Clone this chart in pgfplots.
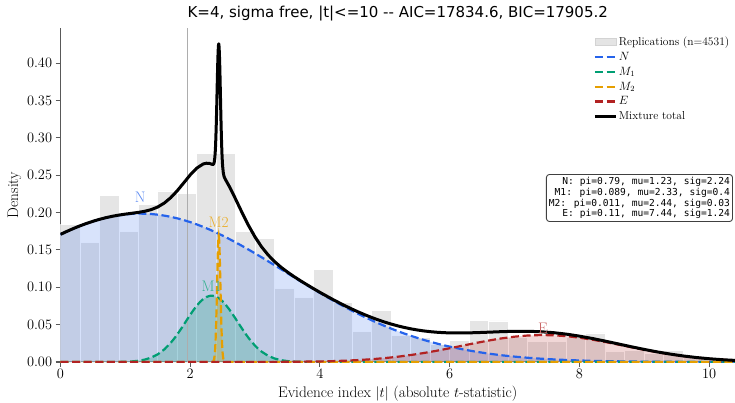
\documentclass[border=0pt]{standalone}
\usepackage{fontspec}
\newfontfamily\titlefont{DejaVu Sans}
\newfontfamily\boxfont{DejaVu Sans Mono}
\usepackage{pgfplots}
\usepackage{pgfplotstable}
\pgfplotsset{compat=1.18}
\usetikzlibrary{calc}
\definecolor{cN}{HTML}{2563EB}
\definecolor{cMa}{HTML}{009E73}
\definecolor{cMb}{HTML}{E69F00}
\definecolor{cE}{HTML}{B22222}
\definecolor{barc}{HTML}{D3D3D3}

\pgfplotstableread{
x y
0.0 0.184
0.3 0.160
0.6 0.223
0.9 0.175
1.2 0.211
1.5 0.229
1.8 0.226
2.1 0.279
2.4 0.279
2.7 0.175
3.0 0.165
3.3 0.099
3.6 0.086
3.9 0.124
4.2 0.080
4.5 0.041
4.8 0.069
5.1 0.036
5.4 0.033
5.7 0.024
6.0 0.029
6.3 0.056
6.6 0.055
6.9 0.033
7.2 0.027
7.5 0.027
7.8 0.033
8.1 0.039
8.4 0.014
8.7 0.016
9.0 0.012
9.3 0.016
9.6 0.007
9.9 0.007
}\hist

\pgfplotstableread{
x y
0.0 0.17081
0.1 0.17487
0.2 0.17867
0.3 0.18220
0.4 0.18542
0.5 0.18833
0.6 0.19090
0.7 0.19312
0.8 0.19497
0.9 0.19646
1.0 0.19756
1.1 0.19827
1.2 0.19858
1.3 0.19850
1.4 0.19803
1.5 0.19716
1.6 0.19591
1.7 0.19428
1.8 0.19227
1.9 0.18991
2.0 0.18721
2.1 0.18417
2.2 0.18083
2.3 0.17719
2.4 0.17327
2.5 0.16911
2.6 0.16472
2.7 0.16013
2.8 0.15535
2.9 0.15041
3.0 0.14535
3.1 0.14017
3.2 0.13490
3.3 0.12958
3.4 0.12422
3.5 0.11884
3.6 0.11347
3.7 0.10813
3.8 0.10283
3.9 0.09760
4.0 0.09245
4.1 0.08740
4.2 0.08246
4.3 0.07764
4.4 0.07296
4.5 0.06842
4.6 0.06404
4.7 0.05982
4.8 0.05577
4.9 0.05189
5.0 0.04818
5.1 0.04465
5.2 0.04129
5.3 0.03812
5.4 0.03511
5.5 0.03228
5.6 0.02961
5.7 0.02712
5.8 0.02478
5.9 0.02260
6.0 0.02057
6.2 0.01695
6.4 0.01385
6.6 0.01122
6.8 0.00902
7.0 0.00720
7.2 0.00570
7.4 0.00447
7.6 0.00348
7.8 0.00269
8.0 0.00206
8.2 0.00157
8.4 0.00118
8.6 0.00089
8.8 0.00066
9.0 0.00048
9.2 0.00035
9.4 0.00026
9.6 0.00018
9.8 0.00013
10.0 0.00009
10.2 0.00007
10.4 0.00005
}\curveN

\pgfplotstableread{
x y
0.0 0
0.8 0.00006
0.9 0.00015
1.0 0.00035
1.1 0.00079
1.2 0.00164
1.3 0.00322
1.4 0.00595
1.5 0.01031
1.6 0.01679
1.7 0.02568
1.75 0.03103
1.8 0.03690
1.85 0.04321
1.9 0.04981
1.95 0.05653
2.0 0.06316
2.05 0.06948
2.1 0.07524
2.15 0.08022
2.2 0.08420
2.25 0.08701
2.3 0.08852
2.35 0.08865
2.4 0.08742
2.45 0.08486
2.5 0.08110
2.55 0.07631
2.6 0.07068
2.65 0.06446
2.7 0.05787
2.75 0.05115
2.8 0.04451
2.85 0.03813
2.9 0.03216
2.95 0.02670
3.0 0.02183
3.05 0.01757
3.1 0.01392
3.2 0.00834
3.3 0.00469
3.4 0.00248
3.5 0.00123
3.6 0.00057
3.7 0.00025
3.9 0.00004
10.4 0
}\curveMa

\pgfplotstableread{
x y
0.0 0
2.34 0.00010
2.35 0.00042
2.36 0.00149
2.37 0.00450
2.38 0.01177
2.385 0.01802
2.39 0.02656
2.395 0.03774
2.40 0.05168
2.405 0.06821
2.41 0.08674
2.415 0.10631
2.42 0.12555
2.425 0.14291
2.43 0.15675
2.435 0.16569
2.44 0.16878
2.445 0.16569
2.45 0.15675
2.455 0.14291
2.46 0.12555
2.465 0.10631
2.47 0.08674
2.475 0.06821
2.48 0.05168
2.485 0.03774
2.49 0.02656
2.495 0.01802
2.50 0.01177
2.51 0.00450
2.52 0.00149
2.53 0.00042
2.54 0.00010
10.4 0
}\curveMb

\pgfplotstableread{
x y
0.0 0
2.5 0.00001
3.0 0.00006
3.5 0.00023
4.0 0.00077
4.2 0.00119
4.4 0.00179
4.6 0.00262
4.8 0.00374
5.0 0.00521
5.2 0.00706
5.4 0.00933
5.6 0.01200
5.8 0.01505
6.0 0.01839
6.2 0.02189
6.4 0.02539
6.6 0.02869
6.8 0.03159
7.0 0.03389
7.2 0.03542
7.4 0.03607
7.6 0.03579
7.8 0.03460
8.0 0.03259
8.2 0.02991
8.4 0.02674
8.6 0.02330
8.8 0.01978
9.0 0.01636
9.2 0.01318
9.4 0.01035
9.6 0.00792
9.8 0.00590
10.0 0.00428
10.2 0.00303
10.4 0.00209
}\curveE

\pgfplotstableread{
x y
0.0 0.17081
0.1 0.17487
0.2 0.17867
0.3 0.18220
0.4 0.18542
0.5 0.18833
0.6 0.19090
0.7 0.19314
0.8 0.19503
0.9 0.19661
1.0 0.19791
1.1 0.19906
1.2 0.20022
1.3 0.20172
1.4 0.20398
1.5 0.20747
1.6 0.21270
1.7 0.21996
1.8 0.22917
1.9 0.23972
2.0 0.25037
2.1 0.25941
2.2 0.26503
2.25 0.26604
2.3 0.26571
2.34 0.26448
2.35 0.26430
2.36 0.26485
2.37 0.26727
2.38 0.27389
2.385 0.28010
2.39 0.28799
2.395 0.29880
2.40 0.31237
2.405 0.32849
2.41 0.34660
2.415 0.36574
2.42 0.38454
2.425 0.40144
2.43 0.41481
2.435 0.42327
2.44 0.42586
2.445 0.42226
2.45 0.41280
2.455 0.39842
2.46 0.38052
2.465 0.36073
2.47 0.34059
2.475 0.32148
2.48 0.30436
2.485 0.28982
2.49 0.27803
2.495 0.26900
2.50 0.26198
2.51 0.25339
2.52 0.24902
2.53 0.24655
2.54 0.24479
2.55 0.24322
2.6 0.23540
2.65 0.22689
2.7 0.21800
2.8 0.19986
2.9 0.18257
3.0 0.16724
3.1 0.15418
3.2 0.14337
3.3 0.13444
3.4 0.12688
3.5 0.12030
3.6 0.11434
3.7 0.10876
3.8 0.10343
3.9 0.09825
4.0 0.09322
4.1 0.08836
4.2 0.08365
4.3 0.07910
4.4 0.07475
4.5 0.07059
4.6 0.06666
4.7 0.06296
4.8 0.05951
4.9 0.05632
5.0 0.05339
5.1 0.05073
5.2 0.04835
5.3 0.04626
5.4 0.04444
5.5 0.04289
5.6 0.04161
5.7 0.04060
5.8 0.03983
5.9 0.03929
6.0 0.03896
6.2 0.03884
6.4 0.03924
6.6 0.03991
6.8 0.04061
7.0 0.04109
7.2 0.04112
7.4 0.04054
7.6 0.03927
7.8 0.03729
8.0 0.03465
8.2 0.03148
8.4 0.02792
8.6 0.02419
8.8 0.02044
9.0 0.01684
9.2 0.01353
9.4 0.01061
9.6 0.00810
9.8 0.00603
10.0 0.00437
10.2 0.00310
10.4 0.00214
}\curveT

\begin{document}
\begin{tikzpicture}
\begin{axis}[
  scale only axis,
  width=674.5pt, height=334pt,
  xmin=0, xmax=10.4, ymin=0, ymax=0.447,
  axis x line*=bottom, axis y line*=left,
  axis line style={black!65, line width=1.1pt},
  tick align=outside,
  major tick length=4.9pt,
  tick style={black!65, line width=1.1pt},
  xtick={0,2,4,6,8,10},
  ytick={0,0.05,0.10,0.15,0.20,0.25,0.30,0.35,0.40},
  yticklabel style={/pgf/number format/.cd, fixed, fixed zerofill, precision=2},
  ticklabel style={font=\fontsize{13.9}{16}\selectfont},
  xticklabel style={yshift=1pt},
  xlabel={Evidence index $|t|$ (absolute $t$-statistic)},
  ylabel={Density},
  xlabel style={yshift=0pt},
  ylabel style={yshift=-1pt},
  label style={font=\fontsize{15.3}{17}\selectfont},
  title={K=4, sigma free, |t|<=10 -- AIC=17834.6, BIC=17905.2},
  title style={font=\titlefont\fontsize{15}{17}\selectfont, yshift=-2.5pt},
  legend style={at={(0.997,0.985)}, anchor=north east, draw=none, fill=white, fill opacity=0.8, text opacity=1,
    font=\fontsize{11.5}{13}\selectfont, row sep=2.2pt, inner sep=2pt,
    nodes={inner sep=1.5pt}},
  legend cell align=left,
  legend image code/.code={\draw[#1] (0pt,0pt) -- (21pt,0pt);},
  clip=true,
]
\addplot[ybar interval, fill=barc, fill opacity=0.6, draw=white, line width=0.7pt,
  legend image code/.code={\fill[barc, fill opacity=0.6] (0pt,-3.5pt) rectangle (21pt,3.5pt);}] table {\hist};
\addlegendentry{Replications (n=4531)}

\addplot[draw=none, fill=cN, fill opacity=0.18, forget plot] table {\curveN} \closedcycle;
\addplot[draw=none, fill=cMa, fill opacity=0.22, forget plot] table {\curveMa} \closedcycle;
\addplot[draw=none, fill=cMb, fill opacity=0.22, forget plot] table {\curveMb} \closedcycle;
\addplot[draw=none, fill=cE, fill opacity=0.18, forget plot] table {\curveE} \closedcycle;

\addplot[black!32, line width=1.1pt, forget plot] coordinates {(1.96,0) (1.96,0.447)};

\addplot[cN, line width=2.2pt, dash pattern=on 8pt off 3.6pt] table {\curveN};
\addlegendentry{$N$}
\addplot[cMa, line width=2.2pt, dash pattern=on 8pt off 3.6pt] table {\curveMa};
\addlegendentry{$M_1$}
\addplot[cMb, line width=2.2pt, dash pattern=on 8pt off 3.6pt] table {\curveMb};
\addlegendentry{$M_2$}
\addplot[cE, line width=2.2pt, dash pattern=on 8pt off 3.6pt] table {\curveE};
\addlegendentry{$E$}
\addplot[black, line width=3pt, line join=round] table {\curveT};
\addlegendentry{Mixture total}

\node[text=cN!75, font=\fontsize{15.3}{17}\selectfont] at (axis cs:1.23,0.221) {N};
\node[text=cMa!80, font=\fontsize{15.3}{17}\selectfont] at (axis cs:2.33,0.1016) {M1};
\node[text=cMb!85, font=\fontsize{15.3}{17}\selectfont] at (axis cs:2.44,0.187) {M2};
\node[text=cE!70, font=\fontsize{15.3}{17}\selectfont] at (axis cs:7.44,0.045) {E};

\node[anchor=east, draw=black!75, line width=0.9pt, rounded corners=3pt, fill=white, fill opacity=0.9, text opacity=1,
  align=right, inner sep=2.5pt, font=\boxfont\fontsize{9.6}{10.9}\selectfont]
  at (rel axis cs:0.997,0.491) {N: pi=0.79, mu=1.23, sig=2.24\\M1: pi=0.089, mu=2.33, sig=0.4\\M2: pi=0.011, mu=2.44, sig=0.03\\E: pi=0.11, mu=7.44, sig=1.24};
\end{axis}
\pgfresetboundingbox
\path ($(current axis.south west)+(-60.5pt,-40pt)$) rectangle ($(current axis.north east)+(0pt,28pt)$);
\end{tikzpicture}
\end{document}
